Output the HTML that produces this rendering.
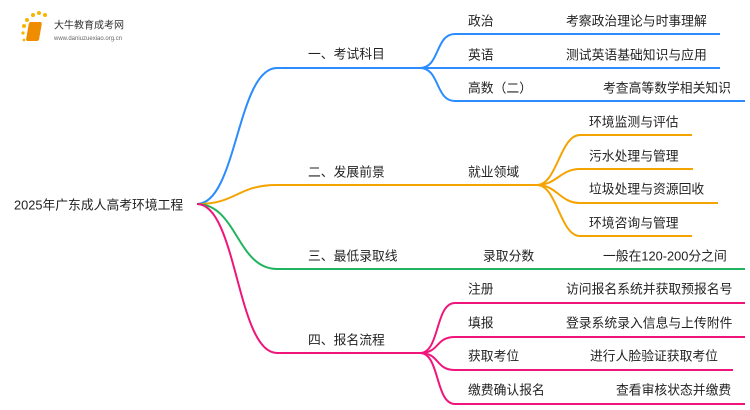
<!DOCTYPE html>
<html><head><meta charset="utf-8"><style>
html,body{margin:0;padding:0;background:#fff;}
svg{display:block;}
text{font-family:"Liberation Sans","Noto Sans CJK SC",sans-serif;font-size:12.8px;fill:#222;dominant-baseline:central;}
</style></head><body>
<svg width="750" height="410" viewBox="0 0 750 410" xmlns="http://www.w3.org/2000/svg">
<g>
<circle cx="24" cy="26" r="2" fill="#f7b500"/><circle cx="27" cy="20" r="2" fill="#f7b500"/><circle cx="33" cy="15" r="2" fill="#f7b500"/><circle cx="39" cy="13" r="2" fill="#f7b500"/><circle cx="45" cy="15" r="2" fill="#f7b500"/><circle cx="23" cy="33" r="1.6" fill="#f7b500"/><circle cx="24" cy="40" r="1.4" fill="#f7b500"/>
<rect x="33" y="22" width="13" height="19" rx="2" fill="#f08c00" transform="skewX(-10)"/>
<text x="54" y="26" style="font-size:10px;fill:#333">大牛教育成考网</text>
<text x="54" y="39" style="font-size:6px;fill:#666">www.daniuzuexiao.org.cn</text>
</g>
<g fill="none" stroke-width="2">
<g stroke="#2a8cff">
<path d="M197,204 C237,204 237,68 277,68 L420,68"/>
<path d="M420,68 C440,68 435,34 455,34 L720,34"/>
<path d="M420,68 L720,68"/>
<path d="M420,68 C440,68 435,101 455,101 L745,101"/>
</g>
<g stroke="#f5a300">
<path d="M197,204 C237,204 237,185 277,185 L537,185"/>
<path d="M537,185 C557,185 560,135 580,135 L692,135"/>
<path d="M537,185 C557,185 560,169 580,169 L693,169"/>
<path d="M537,185 C557,185 560,203 580,203 L718,203"/>
<path d="M537,185 C557,185 560,236 580,236 L692,236"/>
</g>
<g stroke="#20b45f">
<path d="M197,204 C237,204 237,269 277,269 L745,269"/>
</g>
<g stroke="#f0157a">
<path d="M197,204 C237,204 237,353 277,353 L420,353"/>
<path d="M420,353 C440,353 435,303 455,303 L745,303"/>
<path d="M420,353 C440,353 435,337 455,337 L745,337"/>
<path d="M420,353 C440,353 435,370 455,370 L733,370"/>
<path d="M420,353 C440,353 435,404 455,404 L745,404"/>
</g>
</g>
<text x="14" y="205">2025年广东成人高考环境工程</text>
<text x="308" y="54">一、考试科目</text>
<text x="308" y="172">二、发展前景</text>
<text x="308" y="256">三、最低录取线</text>
<text x="308" y="340">四、报名流程</text>
<text x="468" y="21">政治</text>
<text x="566" y="21">考察政治理论与时事理解</text>
<text x="468" y="55">英语</text>
<text x="566" y="55">测试英语基础知识与应用</text>
<text x="468" y="88">高数（二）</text>
<text x="603" y="88">考查高等数学相关知识</text>
<text x="468" y="172">就业领域</text>
<text x="589" y="122">环境监测与评估</text>
<text x="589" y="156">污水处理与管理</text>
<text x="589" y="189">垃圾处理与资源回收</text>
<text x="589" y="223">环境咨询与管理</text>
<text x="483" y="256">录取分数</text>
<text x="603" y="256">一般在120-200分之间</text>
<text x="468" y="289">注册</text>
<text x="566" y="289">访问报名系统并获取预报名号</text>
<text x="468" y="323">填报</text>
<text x="566" y="323">登录系统录入信息与上传附件</text>
<text x="468" y="356">获取考位</text>
<text x="590" y="356">进行人脸验证获取考位</text>
<text x="468" y="390">缴费确认报名</text>
<text x="616" y="390">查看审核状态并缴费</text>
</svg>
</body></html>
